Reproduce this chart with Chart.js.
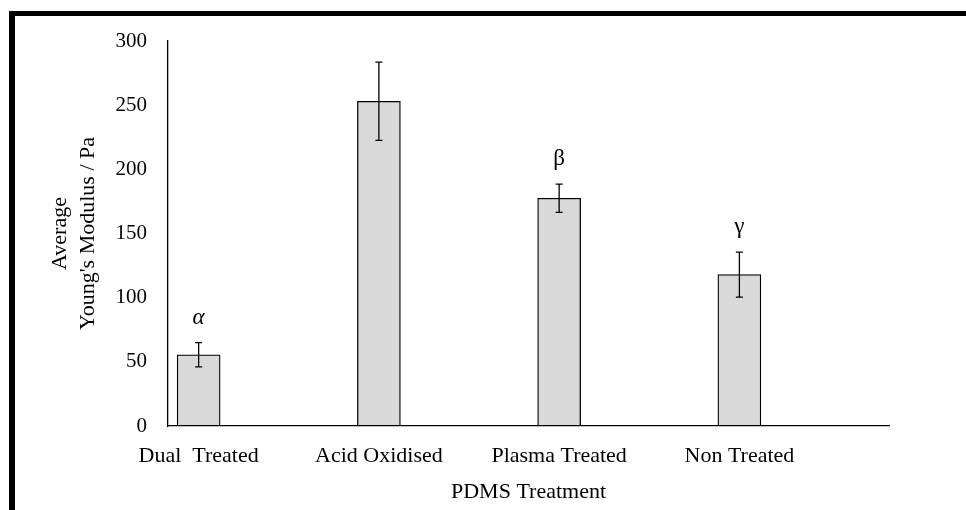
<!DOCTYPE html>
<html>
<head>
<meta charset="utf-8">
<script src="https://cdn.jsdelivr.net/npm/chart.js@4/dist/chart.umd.min.js"></script>
<style>
    body { margin: 0; background: #fff; }
    #wrap { position: relative; width: 966px; height: 510px; }
    #frame {
        position: absolute; left: 9px; top: 11px; right: 0; bottom: 0;
        border-top: 5px solid #000; border-left: 6px solid #000;
        pointer-events: none;
    }
</style>
</head>
<body>
<div id="wrap">
    <canvas id="modulusChart"></canvas>
    <div id="frame"></div>
</div>
<script>
// --- Data ---
const treatments = ['Dual  Treated', 'Acid Oxidised', 'Plasma Treated', 'Non Treated'];
const modulus = [55.5, 253, 177.5, 118];
const modulusError = [9.5, 30.5, 11, 17.5];
const significance = ['\u03b1', '', '\u03b2', '\u03b3'];
const yTicks = [0, 50, 100, 150, 200, 250, 300];

const FONT = "'Liberation Serif', 'DejaVu Serif', serif";

// error bars + greek letters drawn over the bars
const errorBarPlugin = {
    id: 'errorBars',
    afterDatasetsDraw(chart) {
        const ctx = chart.ctx;
        const yScale = chart.scales.y;
        const meta = chart.getDatasetMeta(0);
        ctx.save();
        meta.data.forEach((bar, i) => {
            const top = yScale.getPixelForValue(modulus[i] + modulusError[i]);
            const bottom = yScale.getPixelForValue(modulus[i] - modulusError[i]);
            ctx.strokeStyle = '#000';
            ctx.lineWidth = 1.3;
            ctx.beginPath();
            ctx.moveTo(bar.x, top);
            ctx.lineTo(bar.x, bottom);
            ctx.moveTo(bar.x - 3.5, top);
            ctx.lineTo(bar.x + 3.5, top);
            ctx.moveTo(bar.x - 3.5, bottom);
            ctx.lineTo(bar.x + 3.5, bottom);
            ctx.stroke();

            if (significance[i]) {
                ctx.fillStyle = '#000';
                ctx.font = (i === 0 ? 'italic ' : '') + '23px ' + FONT;
                ctx.textAlign = 'center';
                ctx.textBaseline = 'alphabetic';
                ctx.fillText(significance[i], bar.x, top - 19);
            }
        });
        ctx.restore();
    }
};

const ctx = document.getElementById('modulusChart').getContext('2d');
new Chart(ctx, {
    type: 'bar',
    data: {
        datasets: [{
            data: modulus.map((v, i) => ({ x: i, y: v })),
            backgroundColor: '#d9d9d9',
            borderColor: '#000',
            borderWidth: 1.3,
            borderSkipped: false,
            barThickness: 43
        }]
    },
    options: {
        responsive: true,
        maintainAspectRatio: false,
        animation: false,
        devicePixelRatio: 1,
        layout: { padding: { top: 41, right: 77, left: 0, bottom: 0 } },
        plugins: { legend: { display: false }, tooltip: { enabled: false } },
        scales: {
            x: {
                type: 'linear',
                offset: false,
                bounds: 'data',
                min: -0.17,
                max: 3.83,
                grid: { display: false, drawTicks: false },
                border: { display: true, color: '#000', width: 1.3 },
                afterBuildTicks: scale => {
                    scale.ticks = treatments.map((t, i) => ({ value: i }));
                },
                afterFit: scale => { scale.height = 84; },
                ticks: {
                    padding: 17,
                    color: '#000',
                    font: { family: FONT, size: 22 },
                    callback: value => treatments[value]
                },
                title: {
                    display: true,
                    text: 'PDMS Treatment',
                    color: '#000',
                    font: { family: FONT, size: 22 },
                    padding: { top: 0, bottom: 5 }
                }
            },
            y: {
                min: 0,
                max: 300,
                grid: { display: false, drawTicks: false },
                border: { display: true, color: '#000', width: 1.3 },
                afterBuildTicks: scale => {
                    scale.ticks = yTicks.map(v => ({ value: v }));
                },
                afterFit: scale => { scale.width = 168; },
                ticks: {
                    padding: 21,
                    color: '#000',
                    font: { family: FONT, size: 21 }
                },
                title: {
                    display: true,
                    text: ['Average', "Young's Modulus / Pa"],
                    color: '#000',
                    font: { family: FONT, size: 22, lineHeight: 1.27 },
                    padding: { top: 46, bottom: 0 }
                }
            }
        }
    },
    plugins: [errorBarPlugin]
});
</script>
</body>
</html>
